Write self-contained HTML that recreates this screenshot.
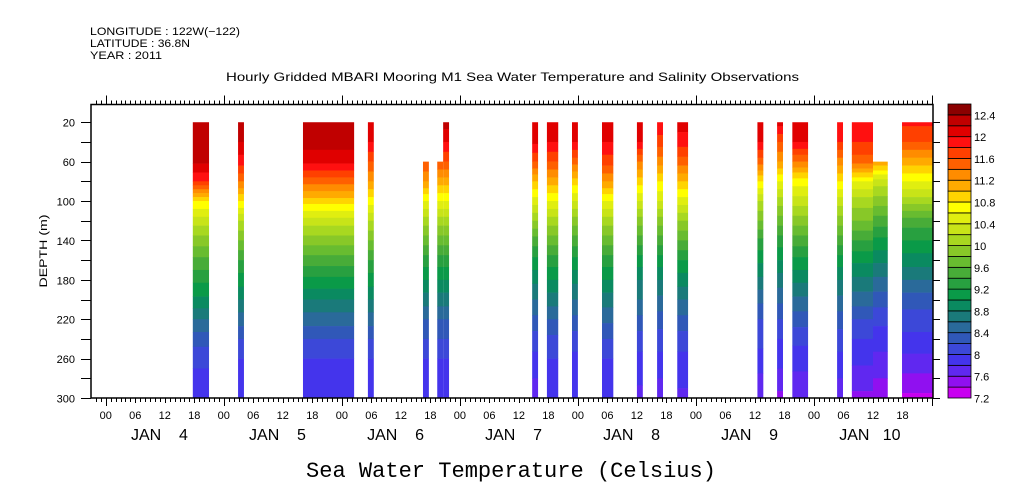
<!DOCTYPE html>
<html><head><meta charset="utf-8"><style>
html,body{margin:0;padding:0;background:#fff}
svg{display:block}
text{font-family:"Liberation Sans",sans-serif;fill:#000}
</style></head><body>
<svg id="chart" width="1009" height="504" viewBox="0 0 1009 504" xmlns="http://www.w3.org/2000/svg">
<text x="90" y="35" font-size="11" textLength="150" lengthAdjust="spacingAndGlyphs">LONGITUDE : 122W(−122)</text>
<text x="90" y="47" font-size="11" textLength="100" lengthAdjust="spacingAndGlyphs">LATITUDE : 36.8N</text>
<text x="90" y="59" font-size="11" textLength="72" lengthAdjust="spacingAndGlyphs">YEAR : 2011</text>
<text x="226" y="81" font-size="12" textLength="573" lengthAdjust="spacingAndGlyphs">Hourly Gridded MBARI Mooring M1 Sea Water Temperature and Salinity Observations</text>
<text transform="translate(47,251) rotate(-90)" text-anchor="middle" font-size="11" textLength="73" lengthAdjust="spacingAndGlyphs">DEPTH (m)</text>
<text x="306" y="477" font-size="22" style="font-family:'Liberation Mono',monospace" textLength="410" lengthAdjust="spacingAndGlyphs">Sea Water Temperature (Celsius)</text>
<g id="plot"></g>
<g id="axes"></g>
<g id="cbar"></g>
</svg>
<script>
// ---- data ----
const depths = [20,40,60,80,100,120,140,160,180,200,220,240,260,280,300];
const barStart = [17.7,26.9,40.1,53.3,64.5,67.4,68.6,86.7,89.7,94.8,100.9,108.0,112.1,116.2,132.5,136.5,139.6,148.7,151.7,156.0,161.9];
const barEnd   = [21.0,28.1,50.5,54.5,65.7,68.6,69.8,87.9,92.0,96.0,103.2,109.2,113.3,118.4,133.7,137.7,142.8,149.9,156.0,159.0,168.2];
const barTop   = [20,20,20,20,60,60,20,20,20,20,20,20,20,20,20,20,20,20,20,60,20];
const profiles = [
 [12.35,12.3,12.25,11.8,10.8,10.3,9.9,9.55,9.25,8.95,8.6,8.3,8.05,7.95,7.85],
 [12.3,12.2,11.9,11.4,10.8,10.2,9.8,9.4,9.1,8.8,8.5,8.2,8.0,7.9,7.85],
 [12.35,12.3,12.05,11.5,10.9,10.3,9.9,9.5,9.15,8.8,8.5,8.2,8.0,7.9,7.8],
 [12.2,12.0,11.6,11.2,10.7,10.2,9.8,9.4,9.1,8.8,8.5,8.2,8.0,7.9,7.85],
 [11.8,11.8,11.6,11.2,10.6,10.1,9.7,9.3,9.0,8.7,8.4,8.2,8.0,7.9,7.85],
 [11.8,11.8,11.6,11.1,10.6,10.1,9.7,9.3,9.0,8.7,8.4,8.2,8.0,7.9,7.85],
 [12.3,12.0,11.6,11.1,10.6,10.1,9.7,9.3,9.0,8.7,8.4,8.2,8.0,7.9,7.85],
 [12.1,12.05,11.6,11.0,10.5,10.0,9.5,9.15,8.85,8.6,8.35,8.1,7.95,7.8,7.7],
 [12.1,12.0,11.6,11.1,10.6,10.1,9.7,9.3,9.0,8.7,8.4,8.15,8.0,7.9,7.8],
 [12.1,12.0,11.5,10.9,10.4,9.9,9.5,9.15,8.85,8.6,8.35,8.1,7.95,7.85,7.8],
 [12.1,12.0,11.7,11.2,10.6,10.1,9.7,9.3,9.0,8.7,8.45,8.2,8.0,7.9,7.85],
 [12.1,12.0,11.4,10.9,10.4,9.9,9.5,9.1,8.8,8.6,8.35,8.1,7.95,7.85,7.7],
 [12.0,11.7,11.3,10.8,10.4,9.9,9.5,9.1,8.8,8.55,8.3,8.1,7.95,7.8,7.7],
 [12.1,11.9,11.5,11.0,10.5,10.0,9.6,9.2,8.9,8.6,8.35,8.1,7.95,7.85,7.75],
 [12.2,12.0,11.5,10.8,10.2,9.8,9.35,9.05,8.75,8.45,8.2,8.05,7.95,7.75,7.6],
 [12.1,11.6,11.2,10.6,10.1,9.7,9.3,9.0,8.7,8.45,8.2,8.0,7.9,7.7,7.55],
 [12.1,12.0,11.4,10.7,10.3,9.9,9.5,9.15,8.85,8.55,8.3,8.05,7.9,7.75,7.6],
 [11.9,11.8,11.3,10.8,10.3,9.9,9.5,9.1,8.8,8.55,8.3,8.1,7.95,7.8,7.6],
 [11.85,11.8,11.5,10.6,10.1,9.8,9.4,9.05,8.75,8.5,8.2,8.0,7.85,7.7,7.55],
 [11.6,11.6,11.2,10.3,9.9,9.5,9.15,8.85,8.55,8.3,8.05,7.9,7.75,7.6,7.5],
 [11.85,11.6,11.1,10.6,10.1,9.5,9.2,8.9,8.6,8.3,8.1,7.95,7.75,7.55,7.35]
];
const levelMin = 7.2, levelStep = 0.2;
const levelColors = ["#c800f0","#9010f0","#6028f0","#4434ec","#3c48d8","#3058b8","#2a6a9a","#1a7a7a","#0a8a60","#0a9a48","#28a040","#48ac38","#68bc30","#88c828","#a8d820","#c8e418","#e0ee10","#ffff00","#ffd400","#ffaa00","#ff8c00","#ff6000","#ff4000","#ff1010","#e00000","#c00000","#8b0000"];
const cbarLabels = ["7.2","7.6","8","8.4","8.8","9.2","9.6","10","10.4","10.8","11.2","11.6","12","12.4"];
const dayLabels = ["JAN  4","JAN  5","JAN  6","JAN  7","JAN  8","JAN  9","JAN 10"];
const hourLabels = ["00","06","12","18"];
const yTicks = [20,60,100,140,180,220,260,300];

// ---- scales ----
const X0=91, X1=933, Y0=104.5, Y1=398;
const H0=-3, H1=168.2;
const D0=2, D1=300;
const xs = h => X0 + (h-H0)/(H1-H0)*(X1-X0);
const ys = d => Y0 + (d-D0)/(D1-D0)*(Y1-Y0);
const NS="http://www.w3.org/2000/svg";
function mk(tag, attrs, parent){const e=document.createElementNS(NS,tag);for(const k in attrs)e.setAttribute(k,attrs[k]);parent.appendChild(e);return e;}
const colorOf = t => { let i=Math.floor((t-levelMin)/levelStep); i=Math.max(0,Math.min(levelColors.length-1,i)); return levelColors[i]; };
function interp(p,d){ for(let i=0;i<depths.length-1;i++){ if(d<=depths[i+1]){const f=(d-depths[i])/(depths[i+1]-depths[i]);return p[i]+f*(p[i+1]-p[i]);} } return p[p.length-1]; }

const plot=document.getElementById('plot');
for(let b=0;b<barStart.length;b++){
  const g=mk('g',{},plot);
  
  
  const xa=xs(barStart[b]), xb=xs(barEnd[b]);
  let runStart=barTop[b], runColor=null;
  const step=1;
  for(let d=barTop[b]; d<=D1; d+=step){
    const c=colorOf(interp(profiles[b],Math.min(d+step/2,D1)));
    if(runColor===null) runColor=c;
    if(c!==runColor){
      const r=mk('rect',{x:xa,y:ys(runStart),width:xb-xa,height:ys(d)-ys(runStart)+0.3,fill:runColor},g);
      
      
      runStart=d; runColor=c;
    }
  }
  const r=mk('rect',{x:xa,y:ys(runStart),width:xb-xa,height:ys(D1)-ys(runStart),fill:runColor},g);
  
  
}

// ---- axes ----
const ax=document.getElementById('axes');
const frame=mk('rect',{x:X0,y:Y0,width:X1-X0,height:Y1-Y0,fill:'none',stroke:'#000','stroke-width':1.5},ax);


for(let h=-2; h<=168; h++){
  const x=Math.round(xs(h))+0.5;
  const day=(h%24===0), six=(h%6===0);
  mk('line',{x1:x,x2:x,y1:Y0,y2:Y0-(day?9:4),stroke:'#000','stroke-width':1},ax);
  mk('line',{x1:x,x2:x,y1:Y1,y2:Y1+(day?8:(six?5:4)),stroke:'#000','stroke-width':1},ax);
  if(six && h>=0 && h<168){
    const t=mk('text',{x:xs(h),y:419,'text-anchor':'middle','font-size':11},ax);
    t.textContent=hourLabels[(h/6)%4];
    
    
  }
}
dayLabels.forEach((lab,i)=>{
  const t=mk('text',{x:131+i*(xs(24)-xs(0)),y:440,'font-size':16},ax);
  t.setAttribute('style','white-space:pre');
  t.textContent=lab.replace(' ','   ');
  
  
});
for(let d=20; d<=300; d+=20){
  const y=Math.round(ys(d))+0.5;
  mk('line',{x1:X0-10,x2:X0,y1:y,y2:y,stroke:'#000','stroke-width':1},ax);
  mk('line',{x1:X1,x2:X1+7,y1:y,y2:y,stroke:'#000','stroke-width':1},ax);
}
yTicks.forEach(d=>{
  const t=mk('text',{x:75,y:ys(d)+4.5,'text-anchor':'end','font-size':11},ax);
  t.textContent=String(d);
  
  
});

// ---- colorbar ----
const cb=document.getElementById('cbar');
const CX=948, CW=23, CT=104, CB=398;
const n=levelColors.length, bh=(CB-CT)/n;
levelColors.forEach((c,i)=>{
  const r=mk('rect',{x:CX,y:CB-(i+1)*bh,width:CW,height:bh,fill:c,stroke:'#000','stroke-width':0.8},cb);
  
  
});
cbarLabels.forEach(l=>{
  const v=parseFloat(l);
  const y=CB-(v-levelMin)/levelStep*bh;
  const t=mk('text',{x:974,y:y+4.5,'font-size':11},cb);
  t.textContent=l;
  
  
});
</script>
</body></html>
